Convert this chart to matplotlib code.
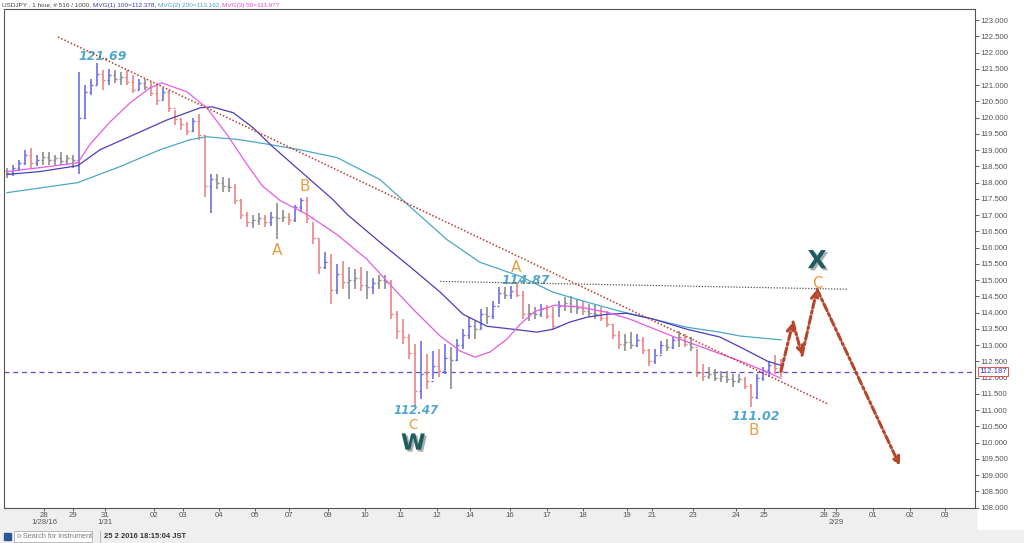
import matplotlib
matplotlib.use('Agg')
import numpy as np
import matplotlib.pyplot as plt
import matplotlib.patheffects as pe
import matplotlib.transforms as mtransforms
from matplotlib import font_manager
from matplotlib.patches import Rectangle
from matplotlib.lines import Line2D

# USDJPY 1 hour (one bar here = about 4 hours)
open_first = 118.35
highs = [118.45, 118.55, 118.70, 119.00, 119.05, 118.85, 118.95, 118.95, 118.85, 118.95,
         118.85, 118.85, 121.40, 121.00, 121.20, 121.68, 121.45, 121.50, 121.45, 121.40,
         121.45, 121.30, 121.20, 121.20, 121.10, 121.00, 120.90, 120.85, 120.24, 120.00,
         119.87, 120.00, 120.10, 119.47, 118.25, 118.25, 118.17, 118.15, 117.95, 117.48,
         117.10, 117.00, 117.07, 117.00, 117.10, 117.37, 117.17, 117.07, 117.30, 117.53,
         117.55, 116.80, 116.25, 115.88, 115.80, 115.50, 115.58, 115.40, 115.33, 115.40,
         115.27, 115.08, 115.16, 115.16, 115.00, 114.04, 113.80, 113.34, 113.03, 113.12,
         112.72, 112.82, 112.88, 113.03, 112.94, 113.18, 113.49, 113.86, 113.74, 114.10,
         114.16, 114.35, 114.78, 114.78, 114.81, 114.93, 114.66, 114.26, 114.16, 114.26,
         114.23, 114.16, 114.35, 114.47, 114.50, 114.41, 114.35, 114.26, 114.23, 114.16,
         114.04, 113.64, 113.43, 113.34, 113.40, 113.34, 113.25, 112.88, 112.88, 113.12,
         113.18, 113.25, 113.43, 113.34, 113.25, 112.88, 112.42, 112.33, 112.26, 112.20,
         112.20, 112.11, 112.11, 112.02, 111.80, 112.11, 112.33, 112.51, 112.70, 112.57]
lows = [118.15, 118.20, 118.35, 118.55, 118.45, 118.50, 118.55, 118.55, 118.55, 118.55,
        118.55, 118.45, 118.25, 119.95, 120.70, 121.00, 120.85, 121.00, 121.07, 121.00,
        121.00, 120.75, 120.85, 120.85, 120.65, 120.40, 120.55, 120.17, 119.78, 119.63,
        119.47, 119.55, 119.32, 117.56, 117.07, 117.79, 117.70, 117.70, 117.33, 116.87,
        116.62, 116.60, 116.70, 116.62, 116.66, 116.25, 116.80, 116.71, 116.80, 117.10,
        116.75, 116.10, 115.18, 115.33, 114.26, 114.56, 114.72, 114.41, 114.72, 114.66,
        114.41, 114.56, 114.72, 114.72, 113.80, 113.18, 113.03, 112.57, 111.10, 111.34,
        111.65, 111.96, 112.02, 112.12, 111.65, 112.51, 112.88, 113.18, 113.18, 113.49,
        113.64, 113.80, 114.26, 114.41, 114.41, 114.47, 113.80, 113.74, 113.80, 113.86,
        113.80, 113.49, 113.86, 114.04, 114.00, 113.95, 113.92, 113.86, 113.80, 113.74,
        113.55, 113.18, 112.88, 112.82, 112.88, 112.94, 112.72, 112.36, 112.42, 112.72,
        112.82, 112.88, 112.94, 112.94, 112.82, 112.02, 111.90, 111.96, 111.90, 111.87,
        111.83, 111.71, 111.83, 111.65, 111.10, 111.34, 111.90, 112.02, 112.11, 112.02]
closes = [118.30, 118.45, 118.60, 118.85, 118.60, 118.70, 118.80, 118.70, 118.75, 118.65,
          118.75, 118.70, 120.00, 120.80, 121.00, 121.35, 121.15, 121.30, 121.20, 121.25,
          121.10, 120.85, 121.05, 120.95, 120.75, 120.55, 120.80, 120.30, 119.95, 119.80,
          119.60, 119.90, 119.45, 117.90, 118.10, 118.00, 117.90, 117.85, 117.45, 117.00,
          116.80, 116.85, 116.90, 116.80, 116.95, 116.90, 116.95, 116.85, 117.25, 117.45,
          116.90, 116.30, 115.40, 115.55, 114.70, 115.20, 114.95, 115.00, 115.05, 114.85,
          114.80, 114.90, 115.00, 114.95, 113.95, 113.45, 113.25, 112.75, 111.60, 112.10,
          111.90, 112.35, 112.20, 112.60, 112.55, 113.00, 113.30, 113.60, 113.50, 113.95,
          113.90, 114.20, 114.60, 114.55, 114.65, 114.55, 113.95, 114.00, 113.95, 114.10,
          113.90, 113.60, 114.20, 114.30, 114.20, 114.15, 114.05, 114.00, 113.95, 113.85,
          113.65, 113.30, 113.05, 113.10, 113.00, 113.15, 112.85, 112.50, 112.70, 113.00,
          112.95, 113.15, 113.25, 113.05, 112.95, 112.15, 112.05, 112.10, 112.00, 112.05,
          111.95, 111.90, 111.95, 111.75, 111.40, 112.00, 112.25, 112.40, 112.30, 112.19]
last_price = 112.187

# moving averages (bar position, price)
mvg1_x = [0, 5.5, 11.8, 15.5, 22.2, 26.7, 32.2, 34.2, 37.7, 41, 44.3, 48.8, 54.3, 56.7, 62.2,
          67.7, 72.2, 76, 80, 84.3, 88.3, 91, 93.8, 96.7, 100, 103.3, 107.7, 113.3, 118.8,
          122.2, 126.7, 129]
mvg1_y = [118.25, 118.34, 118.52, 119.01, 119.56, 119.93, 120.30, 120.33, 120.15, 119.69,
          119.10, 118.37, 117.48, 117.02, 116.16, 115.33, 114.63, 113.95, 113.58, 113.49,
          113.40, 113.49, 113.71, 113.86, 113.95, 113.98, 113.80, 113.49, 113.25, 112.94,
          112.51, 112.378]
mvg2_x = [0, 11.8, 18.8, 25.5, 30.5, 33.3, 38.8, 43.8, 48.8, 55, 62.2, 67.7, 73.3, 78.8,
          85.5, 91, 96.7, 102.2, 107.7, 113.3, 118.8, 122.2, 129]
mvg2_y = [117.69, 118.00, 118.49, 119.01, 119.32, 119.41, 119.32, 119.17, 119.01, 118.77,
          118.09, 117.17, 116.25, 115.55, 115.12, 114.63, 114.32, 114.04, 113.80, 113.55,
          113.40, 113.28, 113.162]
mvg3_x = [0, 5.5, 11.8, 13.8, 17.2, 20.5, 23.8, 25.8, 30, 33.3, 36.7, 39.7, 42.5, 45.5, 50,
          55, 60, 63.8, 67.7, 72.2, 75.5, 78, 80.5, 83.3, 85.5, 88, 91.3, 95.5, 100, 103.8,
          108, 112.2, 116.7, 122.2, 126.7, 129]
mvg3_y = [118.34, 118.46, 118.61, 119.17, 119.87, 120.45, 120.91, 121.07, 120.79, 120.30,
          119.47, 118.64, 117.91, 117.45, 117.02, 116.40, 115.64, 114.87, 114.10, 113.28,
          112.82, 112.63, 112.79, 113.18, 113.64, 114.04, 114.23, 114.17, 114.01, 113.80,
          113.49, 113.18, 112.88, 112.51, 112.17, 111.977]

# drawn lines and projected path
trend_x = [8.5, 136.8]
trend_y = [122.48, 111.19]
level_x = [72.2, 140.2]
level_y = [114.96, 114.72]
path_x = [129, 131, 132.5, 135, 148.8]
path_y = [112.20, 113.71, 112.69, 114.72, 109.29]

tick_pos = [6.17, 11, 16.33, 24.5, 29.33, 35.33, 41.33, 47, 53.5, 59.67, 65.5, 71.67, 77.17,
            83.83, 90, 96, 103.33, 107.5, 114.33, 121.5, 126.17, 136.17, 138.17, 144.33,
            150.5, 156.33]
tick_labels = ['28\n1/28/16', '29', '31\n1/31', '02', '03', '04', '05', '07', '09', '10', '11',
               '12', '14', '16', '17', '18', '19', '21', '23', '24', '25', '28', '29\n2/29',
               '01', '02', '03']

# small narrow font for the platform texts
installed = {f.name for f in font_manager.fontManager.ttflist}
ui_font = 'Liberation Sans Narrow' if 'Liberation Sans Narrow' in installed else 'Liberation Sans'

fig = plt.figure(figsize=(10.24, 5.43), dpi=100, facecolor='white')
# grey status strip at the bottom
fig.patches.append(Rectangle((0, 0), 976 / 1024, 34 / 543, transform=fig.transFigure,
                             color='#efefef', zorder=-5))
fig.patches.append(Rectangle((0, 0), 1, 13 / 543, transform=fig.transFigure,
                             color='#efefef', zorder=-5))

ax = fig.add_axes([4 / 1024, 35 / 543, 971 / 1024, 499 / 543])
ax.set_facecolor('white')

x = np.arange(len(closes))
opens = np.array([open_first] + closes[:-1])
c = np.array(closes)
cols = []
for o, cl in zip(opens, c):
    if abs(cl - o) < 0.1:
        cols.append('#8c8c8c')
    elif cl > o:
        cols.append('#6e6ee0')
    else:
        cols.append('#e98585')
ax.vlines(x, lows, highs, colors=cols, lw=1.2, zorder=3)
ax.hlines(opens, x - 0.4, x, colors=cols, lw=1.0, zorder=3)
ax.hlines(c, x, x + 0.4, colors=cols, lw=1.0, zorder=3)

ax.plot(mvg2_x, mvg2_y, color='#4aa8c8', lw=0.9, zorder=4)
ax.plot(mvg1_x, mvg1_y, color='#4b3fb8', lw=0.9, zorder=4)
ax.plot(mvg3_x, mvg3_y, color='#e45ce4', lw=0.9, zorder=4)

ax.plot(trend_x, trend_y, color='#c0392b', lw=1.1, ls=(0, (1, 1.3)), zorder=5)
ax.plot(level_x, level_y, color='#555555', lw=0.9, ls=(0, (1, 1.3)), zorder=5)
ax.axhline(last_price, color='#5a4fcf', lw=0.9, ls=(0, (4, 3)), zorder=2)

for i in range(len(path_x) - 1):
    ax.annotate('', xy=(path_x[i + 1], path_y[i + 1]), xytext=(path_x[i], path_y[i]),
                arrowprops=dict(arrowstyle='->', lw=2.2, ls=(0, (2.5, 1, 0.8, 1)),
                                color='#b5472b', mutation_scale=12,
                                shrinkA=0, shrinkB=0), zorder=6)

# wave labels
orange = '#e3a145'
teal = '#4fa8cc'
ax.text(16, 121.87, '121.69', color=teal, fontsize=9, fontweight='bold', style='italic',
        ha='center', va='center')
ax.text(86.5, 114.99, '114.87', color=teal, fontsize=9, fontweight='bold', style='italic',
        ha='center', va='center')
ax.text(68.2, 111.0, '112.47', color=teal, fontsize=8.5, fontweight='bold', style='italic',
        ha='center', va='center')
ax.text(124.8, 110.79, '111.02', color=teal, fontsize=9, fontweight='bold', style='italic',
        ha='center', va='center')
for lx, ly, s, fs in [(45, 115.91, 'A', 11), (49.7, 117.88, 'B', 11), (67.7, 110.54, 'C', 10),
                      (84.8, 115.39, 'A', 11), (124.5, 110.36, 'B', 11), (135, 114.90, 'C', 11)]:
    ax.text(lx, ly, s, color=orange, fontsize=fs, ha='center', va='center')
shadow = [pe.withSimplePatchShadow(offset=(1.5, -1.5), shadow_rgbFace='#777777', alpha=0.6)]
ax.text(67.7, 109.97, 'W', color='#1d5c60', fontsize=16, fontweight='bold',
        ha='center', va='center', path_effects=shadow)
ax.text(135, 115.58, 'X', color='#1d5c60', fontsize=18, fontweight='bold',
        ha='center', va='center', path_effects=shadow)

ax.set_xlim(-0.5, 161.33)
ax.set_ylim(107.99, 123.34)
ax.yaxis.tick_right()
ax.set_yticks(np.arange(108, 123.01, 0.5))
ax.yaxis.set_major_formatter(matplotlib.ticker.FormatStrFormatter('%.3f'))
ax.tick_params(axis='y', labelsize=5.6, labelcolor='#555555', length=3, width=0.6,
               pad=1, color='#444444')
ax.set_xticks(tick_pos)
ax.set_xticklabels(tick_labels, linespacing=0.95)
ax.tick_params(axis='x', labelsize=5.6, labelcolor='#555555', length=2, width=0.6,
               pad=1, color='#444444')
for lab in ax.get_xticklabels() + ax.get_yticklabels():
    lab.set_fontfamily(ui_font)
for s in ax.spines.values():
    s.set_color('#555555')
    s.set_linewidth(0.8)

trans = mtransforms.blended_transform_factory(ax.transAxes, ax.transData)
ax.text(1.004, last_price, '112.187', transform=trans, fontsize=5.6, color='#3838c8',
        ha='left', va='center', zorder=10, family=ui_font,
        bbox=dict(boxstyle='square,pad=0.12', fc='white', ec='#e05050', lw=0.7))

# header line in pieces
renderer = fig.canvas.get_renderer()
xpos = 2 / 1024
for s, col in [('USDJPY , 1 hour, # 516 / 1000, ', '#444444'),
               ('MVG(1) 100=112.378, ', '#3b3bb5'),
               ('MVG(2) 200=113.162, ', '#45a5c8'),
               ('MVG(3) 50=111.977', '#e04ce0')]:
    t = fig.text(xpos, 1 - 5 / 543, s, fontsize=4.6, color=col, ha='left', va='center',
                 family=ui_font)
    bb = t.get_window_extent(renderer=renderer)
    xpos = bb.x1 / fig.bbox.width

# status bar
fig.patches.append(Rectangle((4 / 1024, 3 / 543), 7 / 1024, 7 / 543,
                             transform=fig.transFigure, color='#2f5597'))
fig.patches.append(Rectangle((14 / 1024, 1.5 / 543), 78 / 1024, 11 / 543,
                             transform=fig.transFigure, fc='white', ec='#b0b0b0', lw=0.6))
fig.lines.append(Line2D([100 / 1024, 100 / 1024], [1.5 / 543, 12.5 / 543],
                        transform=fig.transFigure, color='#b0b0b0', lw=0.6))
fig.text(17 / 1024, 7 / 543, 'o', fontsize=5, color='#7a7a7a', ha='left', va='center')
fig.text(23 / 1024, 7 / 543, 'Search for instrument', fontsize=5.2, color='#7a7a7a',
         ha='left', va='center', family=ui_font)
fig.text(104 / 1024, 7 / 543, '25 2 2016 18:15:04 JST', fontsize=5.4, color='#333333',
         fontweight='bold', ha='left', va='center', family=ui_font)

fig.savefig('out.png', dpi=100, facecolor=fig.get_facecolor())
